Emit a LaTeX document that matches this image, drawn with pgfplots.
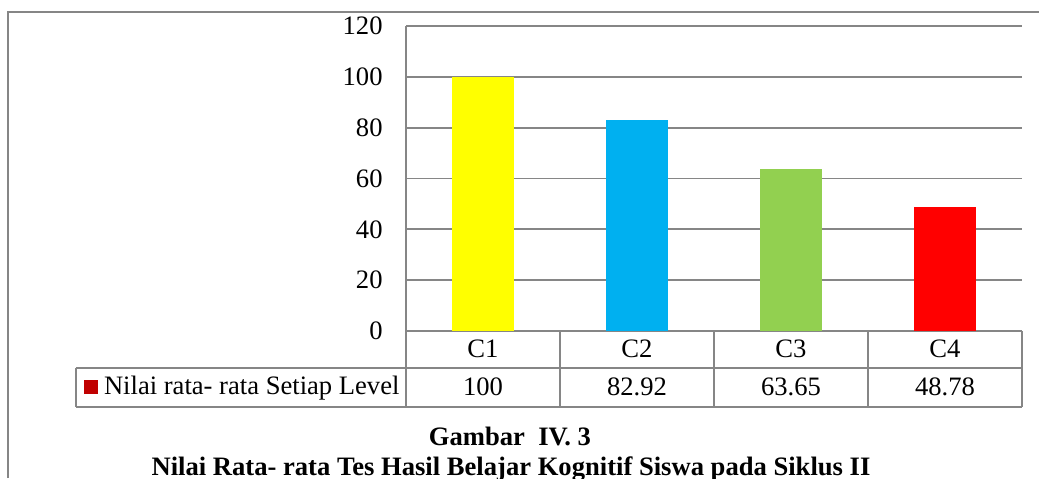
\documentclass[border=0pt]{standalone}
\usepackage{fontspec}
\setmainfont{Liberation Serif}
\usepackage{pgfplots}
\pgfplotsset{compat=1.18}
\definecolor{gridgray}{RGB}{134,134,134}
\definecolor{barYellow}{RGB}{255,255,0}
\definecolor{barBlue}{RGB}{0,176,240}
\definecolor{barGreen}{RGB}{146,208,80}
\definecolor{barRed}{RGB}{255,0,0}
\definecolor{keyRed}{RGB}{192,0,0}
\newcommand{\txt}{\fontsize{13.3}{16}\selectfont}

\begin{document}
\begin{tikzpicture}
\useasboundingbox (0,0) rectangle (519.5pt,239pt);
% chart frame: only left and top edges are visible
\draw[gridgray, line width=0.8pt] (4pt,0) -- (4pt,233pt) -- (519.5pt,233pt);
\begin{axis}[
  at={(203pt,73.5pt)}, anchor=south west,
  scale only axis, width=308pt, height=152.5pt,
  xmin=-0.5, xmax=3.5, ymin=0, ymax=120,
  ytick={0,20,...,120},
  xtick={0,1,2,3}, xticklabels={C1,C2,C3,C4},
  axis line style={draw=none},
  major tick length=0pt,
  ymajorgrids, grid style={gridgray, line width=0.85pt},
  clip=false,
  bar width=31pt,
  /pgf/number format/assume math mode=true,
  tick label style={font=\txt},
  yticklabel style={anchor=east, inner sep=0pt, xshift=-11.5pt},
  xticklabel style={anchor=center, inner sep=0pt, yshift=-9pt},
  legend image code/.code={\fill[#1] (0pt,-3.5pt) rectangle (7pt,3.5pt);},
  legend cell align=left,
  legend style={at={(-0.5227,-0.1836)}, anchor=west, draw=none, fill=none,
    inner sep=0pt, outer sep=0pt, nodes={inner sep=0pt, font=\txt},
    /tikz/every odd column/.style={column sep=3pt}},
]
\addlegendimage{fill=keyRed, draw=none}
\addlegendentry{Nilai rata- rata Setiap Level}

\addplot[ybar, bar shift=0pt, fill=barYellow, draw=none] coordinates {(0,100)};
\addplot[ybar, bar shift=0pt, fill=barBlue, draw=none] coordinates {(1,82.92)};
\addplot[ybar, bar shift=0pt, fill=barGreen, draw=none] coordinates {(2,63.65)};
\addplot[ybar, bar shift=0pt, fill=barRed, draw=none] coordinates {(3,48.78)};

% value row of the data table
\addplot[draw=none, mark=none, nodes near coords, point meta=explicit symbolic,
  nodes near coords align={center},
  every node near coord/.append style={anchor=center, font=\txt, inner sep=0pt}]
  coordinates {(0,-22.05)[100] (1,-22.05)[82.92] (2,-22.05)[63.65] (3,-22.05)[48.78]};

% data table grid
\draw[gridgray, line width=0.85pt]
  (axis cs:-0.5,120) -- (axis cs:-0.5,-29.92)
  (axis cs:-2.643,-14.57) -- (axis cs:3.5,-14.57)
  (axis cs:-2.643,-29.92) -- (axis cs:3.5,-29.92)
  (axis cs:-2.643,-14.57) -- (axis cs:-2.643,-29.92)
  (axis cs:0.5,0) -- (axis cs:0.5,-29.92)
  (axis cs:1.5,0) -- (axis cs:1.5,-29.92)
  (axis cs:2.5,0) -- (axis cs:2.5,-29.92)
  (axis cs:3.5,0) -- (axis cs:3.5,-29.92);
\end{axis}
\node[anchor=base, font=\bfseries\fontsize{13.3}{16}\selectfont] at (255pt,16.5pt) {Gambar\ \ IV. 3};
\node[anchor=base, font=\bfseries\fontsize{13.3}{16}\selectfont] at (255.5pt,1.5pt) {Nilai Rata- rata Tes Hasil Belajar Kognitif Siswa pada Siklus II};
\end{tikzpicture}
\end{document}
